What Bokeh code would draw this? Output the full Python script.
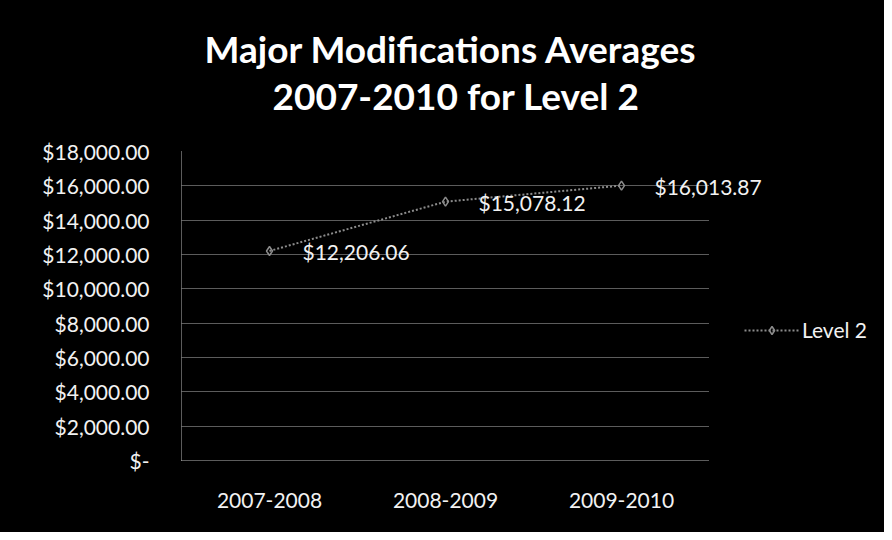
from bokeh.plotting import figure
from bokeh.models import (ColumnDataSource, Range1d, FixedTicker,
                          LabelSet, Title, Legend, LegendItem)
from bokeh.core.properties import value
from bokeh.embed import file_html
from bokeh.resources import INLINE

# ---- data ----
categories = ["2007-2008", "2008-2009", "2009-2010"]
level2_values = [12206.06, 15078.12, 16013.87]
level2_labels = ["$12,206.06", "$15,078.12", "$16,013.87"]
y_ticks = [0, 2000, 4000, 6000, 8000, 10000, 12000, 14000, 16000, 18000]
y_tick_labels = ["$-", "$2,000.00", "$4,000.00", "$6,000.00", "$8,000.00",
                 "$10,000.00", "$12,000.00", "$14,000.00", "$16,000.00", "$18,000.00"]
title_lines = ["Major Modifications Averages", "2007-2010  for Level 2"]
series_name = "Level 2"

FONT = "Lato"
BG = "#000000"
FG = "#f2f2f2"
GRID = "#b8b8b8"
LINE = "#8c8c8c"

x_pos = list(range(len(categories)))
source = ColumnDataSource(dict(x=x_pos, y=level2_values, label=level2_labels))

W, H = 884, 532
LEFT, TOP, BOTTOM = 181, 151, 72
CAT_PX = 176  # pixels per category slot
x_lo, x_hi = -0.5, len(categories) - 0.5

p = figure(width=W, height=H, output_backend="svg", toolbar_location=None,
           x_range=Range1d(x_lo, x_lo + (W - LEFT) / CAT_PX), y_range=Range1d(0, 18000),
           min_border_left=LEFT, min_border_right=0,
           min_border_top=TOP, min_border_bottom=BOTTOM)
p.background_fill_color = None
p.border_fill_color = None
p.styles = {"background-color": BG}
p.outline_line_color = None

# axes
p.yaxis.ticker = FixedTicker(ticks=y_ticks)
p.yaxis.major_label_overrides = {t: l for t, l in zip(y_ticks, y_tick_labels)}
p.xaxis.ticker = FixedTicker(ticks=x_pos)
p.xaxis.major_label_overrides = {i: c for i, c in zip(x_pos, categories)}
p.xaxis.bounds = (x_lo, x_hi)
for ax in (p.xaxis, p.yaxis):
    ax.major_tick_line_color = None
    ax.minor_tick_line_color = None
    ax.axis_line_color = GRID
    ax.axis_line_dash = "1 1"
    ax.major_label_text_color = FG
    ax.major_label_text_font = FONT
    ax.major_label_text_font_size = "21px"
p.yaxis.major_label_standoff = 26
p.xaxis.major_label_standoff = 26

p.xgrid.grid_line_color = None
p.ygrid.grid_line_color = GRID
p.ygrid.grid_line_dash = "1 1"
p.ygrid.grid_line_width = 1
p.ygrid.cross_bounds = (x_lo, x_hi)

# series
r_line = p.line("x", "y", source=source, line_color=LINE, line_width=2, line_dash="2 2")
r_mark = p.scatter("x", "y", source=source, marker="diamond", size=9,
                   fill_color=None, line_color=LINE, line_width=1.5)

labels = LabelSet(x="x", y="y", text="label", source=source, x_offset=33, y_offset=-1,
                  text_baseline="middle", text_align="left", text_color=FG,
                  text_font=value(FONT), text_font_size="21px")
p.add_layout(labels)

# title (two lines): p.title is the outer one, the added Title sits next to the frame
p.title.text = title_lines[0]
p.title.align = "left"
p.title.text_color = "#ffffff"
p.title.text_font = FONT
p.title.text_font_style = "bold"
p.title.text_font_size = "37px"
p.title.standoff = -68
p.title.offset = 23
p.add_layout(Title(text=title_lines[1], align="left", text_color="#ffffff",
                   text_font=FONT, text_font_style="bold", text_font_size="37px",
                   standoff=68, offset=91), "above")

# legend
legend = Legend(items=[LegendItem(label=series_name, renderers=[r_line, r_mark])],
                location=(563, 118), background_fill_alpha=0, border_line_color=None,
                label_text_color=FG, label_text_font=FONT, label_text_font_size="21px",
                glyph_width=55, glyph_height=20, label_height=20, label_standoff=3,
                padding=0, margin=0)
p.add_layout(legend)

open("out.html", "w").write(file_html(p, INLINE))
